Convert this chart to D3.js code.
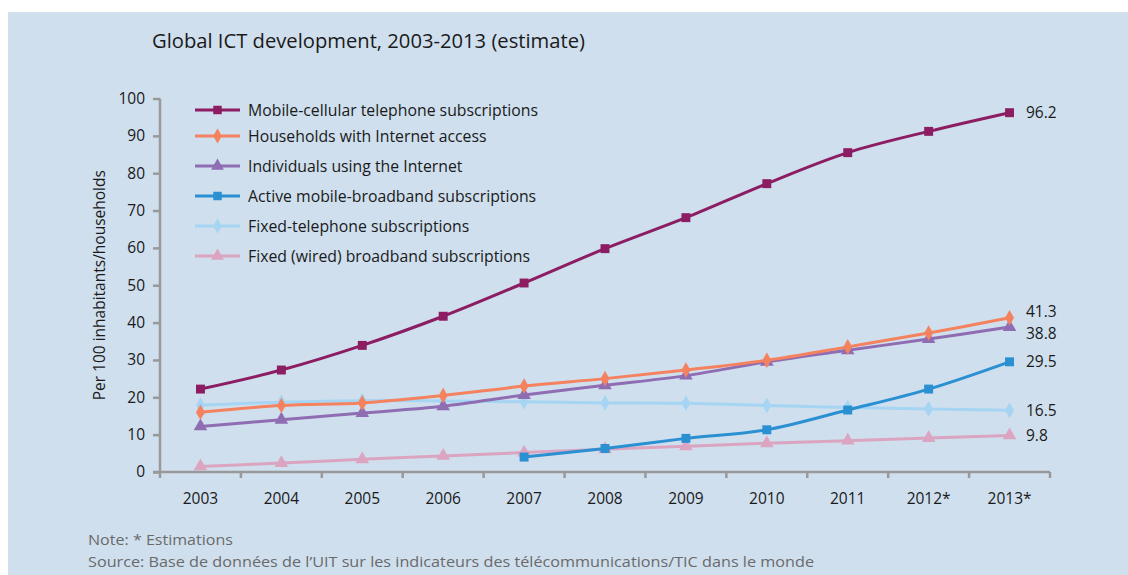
<!DOCTYPE html>
<html><head><meta charset="utf-8">
<script src="https://cdn.jsdelivr.net/npm/d3@7"></script>
<style>
html,body{margin:0;padding:0;background:#fff;}
svg{display:block;}
text{font-family:"Open Sans","Noto Sans",sans-serif;}
</style></head>
<body>
<svg id="chart" width="1128" height="575"></svg>
<script>
const years = ["2003","2004","2005","2006","2007","2008","2009","2010","2011","2012*","2013*"];
const yTicks = [0,10,20,30,40,50,60,70,80,90,100];
const seriesNames = [
  "Mobile-cellular telephone subscriptions",
  "Households with Internet access",
  "Individuals using the Internet",
  "Active mobile-broadband subscriptions",
  "Fixed-telephone subscriptions",
  "Fixed (wired) broadband subscriptions"
];
const mobileCellular = [22.2,27.3,33.9,41.7,50.6,59.8,68.1,77.2,85.5,91.2,96.2];
const householdsInternet = [16.0,17.8,18.5,20.5,23.0,25.0,27.3,29.9,33.5,37.2,41.3];
const individualsInternet = [12.2,14.0,15.8,17.6,20.6,23.2,25.8,29.5,32.6,35.6,38.8];
const activeMobileBroadband = [null,null,null,null,4.0,6.3,9.0,11.3,16.6,22.2,29.5];
const fixedTelephone = [17.9,18.7,19.1,19.0,18.8,18.5,18.4,17.8,17.3,16.9,16.5];
const fixedBroadband = [1.5,2.4,3.4,4.3,5.2,6.1,6.9,7.7,8.4,9.1,9.8];
const endLabels = ["96.2","41.3","38.8","29.5","16.5","9.8"];

const colors = ["#8c1d62","#f5825e","#8f6db3","#2a90d2","#a6d5f3","#dba5c1"];
const symbols = [d3.symbolSquare,d3.symbolDiamond,d3.symbolTriangle,d3.symbolSquare,d3.symbolDiamond,d3.symbolTriangle];
const symSizes = [80,70,80,80,70,80];
const data = [mobileCellular,householdsInternet,individualsInternet,activeMobileBroadband,fixedTelephone,fixedBroadband];
const labelDy = [0,-6,6,0,0,0];

const svg = d3.select("#chart");
svg.append("rect").attr("x",8).attr("y",12).attr("width",1120).attr("height",563).attr("fill","#cfdfee");

const m = {left:160, right:1050, top:98.5, bottom:472};
const x = d3.scaleBand().domain(years).range([m.left,m.right]);
const y = d3.scaleLinear().domain([0,100]).range([m.bottom,m.top]);

// title
svg.append("text").attr("x",152).attr("y",48).attr("font-size",20.2).attr("fill","#1a1a1a")
  .text("Global ICT development, 2003-2013 (estimate)");

// y axis
const yAxis = svg.append("g").attr("transform",`translate(${m.left},0)`)
  .call(d3.axisLeft(y).tickValues(yTicks).tickSize(7).tickPadding(8));
yAxis.select(".domain").attr("stroke","#999").attr("stroke-width",2.5).attr("d",`M0,${m.top}V${m.bottom}`);
yAxis.selectAll(".tick line").attr("stroke","#999").attr("stroke-width",2.5);
yAxis.selectAll(".tick text").attr("font-size",15.5).attr("fill","#1a1a1a").attr("font-family","Open Sans");

// x axis
const xAxis = svg.append("g").attr("transform",`translate(0,${m.bottom})`)
  .call(d3.axisBottom(x).tickSize(0).tickPadding(21));
xAxis.select(".domain").remove();
xAxis.append("path").attr("fill","none").attr("stroke","#999").attr("stroke-width",2.5)
  .attr("d",`M${m.left-7},0H${m.right}`);
const bounds = years.map(d=>x(d)).concat([m.right]);
xAxis.selectAll(".btick").data(bounds).join("line").attr("class","btick")
  .attr("x1",d=>d).attr("x2",d=>d).attr("y1",0).attr("y2",6).attr("stroke","#999").attr("stroke-width",2.5);
xAxis.selectAll(".tick text").attr("font-size",15.5).attr("fill","#1a1a1a").attr("font-family","Open Sans");

// y label
svg.append("text").attr("transform",`translate(105,${(m.top+m.bottom)/2}) rotate(-90)`)
  .attr("text-anchor","middle").attr("font-size",15.5).attr("fill","#1a1a1a")
  .text("Per 100 inhabitants/households");

// lines (draw from bottom to top)
const line = d3.line().defined(d=>d.v!=null).x(d=>x(d.k)+x.bandwidth()/2).y(d=>y(d.v)).curve(d3.curveCatmullRom.alpha(0.5));
const order = [5,4,3,2,1,0];
order.forEach(i=>{
  const pts = years.map((k,j)=>({k, v:data[i][j]}));
  const g = svg.append("g");
  g.append("path").datum(pts).attr("d",line).attr("fill","none").attr("stroke",colors[i]).attr("stroke-width",3);
  g.selectAll("path.pt").data(pts.filter(d=>d.v!=null)).join("path").attr("class","pt")
    .attr("d",d3.symbol().type(symbols[i]).size(symSizes[i]))
    .attr("transform",d=>`translate(${x(d.k)+x.bandwidth()/2},${y(d.v)})`)
    .attr("fill",colors[i]);
  const last = pts[pts.length-1];
  svg.append("text").attr("x",1026).attr("y",y(last.v)+labelDy[i]).attr("dy","0.35em")
    .attr("font-size",15.5).attr("fill","#1a1a1a").text(endLabels[i]);
});

// legend
const legY = [110,136,166,196,226,256];
const leg = svg.append("g");
seriesNames.forEach((n,i)=>{
  const gy = legY[i];
  leg.append("line").attr("x1",195).attr("x2",240).attr("y1",gy).attr("y2",gy).attr("stroke",colors[i]).attr("stroke-width",3);
  leg.append("path").attr("d",d3.symbol().type(symbols[i]).size(symSizes[i]*0.9)).attr("transform",`translate(217.5,${gy})`).attr("fill",colors[i]);
  leg.append("text").attr("x",248).attr("y",gy).attr("dy","0.35em").attr("font-size",15.8).attr("fill","#1a1a1a").text(n);
});

// notes
svg.append("text").attr("x",88).attr("y",545).attr("font-size",15).attr("fill","#6a6a6a")
  .attr("font-family","Open Sans").attr("textLength",145).attr("lengthAdjust","spacingAndGlyphs").text("Note: * Estimations");
svg.append("text").attr("x",88).attr("y",567).attr("font-size",15).attr("fill","#6a6a6a")
  .attr("font-family","Open Sans").attr("textLength",726).attr("lengthAdjust","spacingAndGlyphs")
  .text("Source: Base de données de l’UIT sur les indicateurs des télécommunications/TIC dans le monde");
</script>
</body></html>
